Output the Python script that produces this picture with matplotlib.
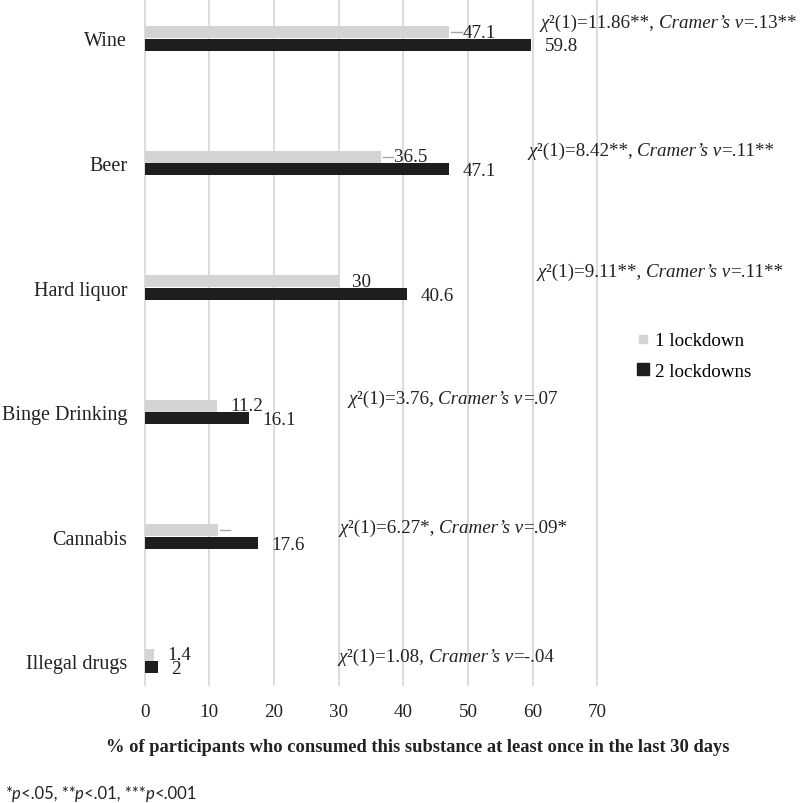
import matplotlib
matplotlib.use("Agg")
import matplotlib.pyplot as plt
from matplotlib.lines import Line2D

plt.rcParams['font.family'] = ['Liberation Serif', 'DejaVu Serif']

# datos
categories = ['Wine', 'Beer', 'Hard liquor', 'Binge Drinking', 'Cannabis', 'Illegal drugs']
one_lockdown = [47.1, 36.5, 30.0, 11.2, 11.3, 1.4]
two_lockdowns = [59.8, 47.1, 40.6, 16.1, 17.6, 2.0]
show_one_label = [True, True, True, True, False, True]
chi_vals = ['11.86**', '8.42**', '9.11**', '3.76', '6.27*', '1.08']
v_vals = ['.13**', '.11**', '.11**', '.07', '.09*', '-.04']
xticks = [0, 10, 20, 30, 40, 50, 60, 70]

# posicion de los textos de chi cuadrado (x en unidades del eje, y relativo a la categoria)
annot_x = [61.2, 59.3, 60.8, 31.5, 30.1, 30.0]
annot_dy = [-0.13, -0.10, -0.13, -0.11, -0.07, -0.04]
leader = [True, True, False, False, True, False]

light = '#d4d4d4'
dark = '#1e1e1e'
txt_color = '#222222'
fs = 13.7

fig = plt.figure(figsize=(8, 8.04), dpi=100)
ax = fig.add_axes([0.18, 0.1455, 0.5675, 0.8545])

y = list(range(len(categories)))
h = 0.098
ax.barh([i - 0.05 for i in y], one_lockdown, height=h, color=light, zorder=2)
ax.barh([i + 0.05 for i in y], two_lockdowns, height=h, color=dark, zorder=2)

for i in y:
    v1 = one_lockdown[i]
    v2 = two_lockdowns[i]
    if leader[i]:
        ax.plot([v1 + 0.3, v1 + 1.9], [i - 0.05, i - 0.05], color='#a8a8a8', lw=1, zorder=2)
    if show_one_label[i]:
        ax.annotate(f'{v1:g}', xy=(v1, i - 0.05), xytext=(9.5, 0), textcoords='offset points',
                    va='center', ha='left', fontsize=fs, color=txt_color)
    ax.annotate(f'{v2:g}', xy=(v2, i + 0.06), xytext=(9.5, 0), textcoords='offset points',
                va='center', ha='left', fontsize=fs, color=txt_color)

    # texto estadistico, por partes (normal / cursiva)
    parts = [('χ', 'italic'), ('²(1)=' + chi_vals[i] + ', ', 'normal'),
             ('Cramer’s v', 'italic'), ('=' + v_vals[i], 'normal')]
    t = ax.text(annot_x[i], i + annot_dy[i], parts[0][0], style=parts[0][1],
                fontsize=fs, va='center', ha='left', color=txt_color)
    for txt, st in parts[1:]:
        t = ax.annotate(txt, xy=(1, 0), xycoords=t, va='bottom', ha='left',
                        style=st, fontsize=fs, color=txt_color)

ax.set_xlim(-0.1, 70.1)
ax.set_ylim(5.2, -0.317)
ax.set_xticks(xticks)
ax.set_yticks(y)
ax.set_yticklabels(categories, fontsize=14.5, color=txt_color)
ax.tick_params(axis='x', length=0, pad=12, labelsize=fs, labelcolor=txt_color)
ax.tick_params(axis='y', length=0, pad=12)
ax.grid(axis='x', color='#d9d9d9', lw=1.3, zorder=0)
ax.set_axisbelow(True)
for s in ax.spines.values():
    s.set_visible(False)

handles = [Line2D([], [], ls='none', marker='s', markersize=6, color=light),
           Line2D([], [], ls='none', marker='s', markersize=8.5, color=dark)]
fig.legend(handles, ['1 lockdown', '2 lockdowns'], loc='center left',
           bbox_to_anchor=(0.797, 0.556), frameon=False, fontsize=fs,
           handlelength=0.6, handletextpad=0.3, labelspacing=0.7,
           borderpad=0, borderaxespad=0)

fig.text(0.522, 0.0697, '% of participants who consumed this substance at least once in the last 30 days',
         ha='center', va='center', fontsize=13.3, fontweight='bold', color=txt_color)

# nota al pie
fparts = [('*', 'normal'), ('p', 'italic'), ('<.05, **', 'normal'), ('p', 'italic'),
          ('<.01, ***', 'normal'), ('p', 'italic'), ('<.001', 'normal')]
t = fig.text(0.006, 1 - 794 / 804, fparts[0][0], family='Lato', fontsize=12,
             va='center', ha='left', color=txt_color)
for txt, st in fparts[1:]:
    t = fig.add_artist(matplotlib.text.Annotation(
        txt, xy=(1, 0), xycoords=t, va='bottom', ha='left', family='Lato',
        fontsize=12, style=st, color=txt_color))

plt.savefig('out.png', dpi=100)
